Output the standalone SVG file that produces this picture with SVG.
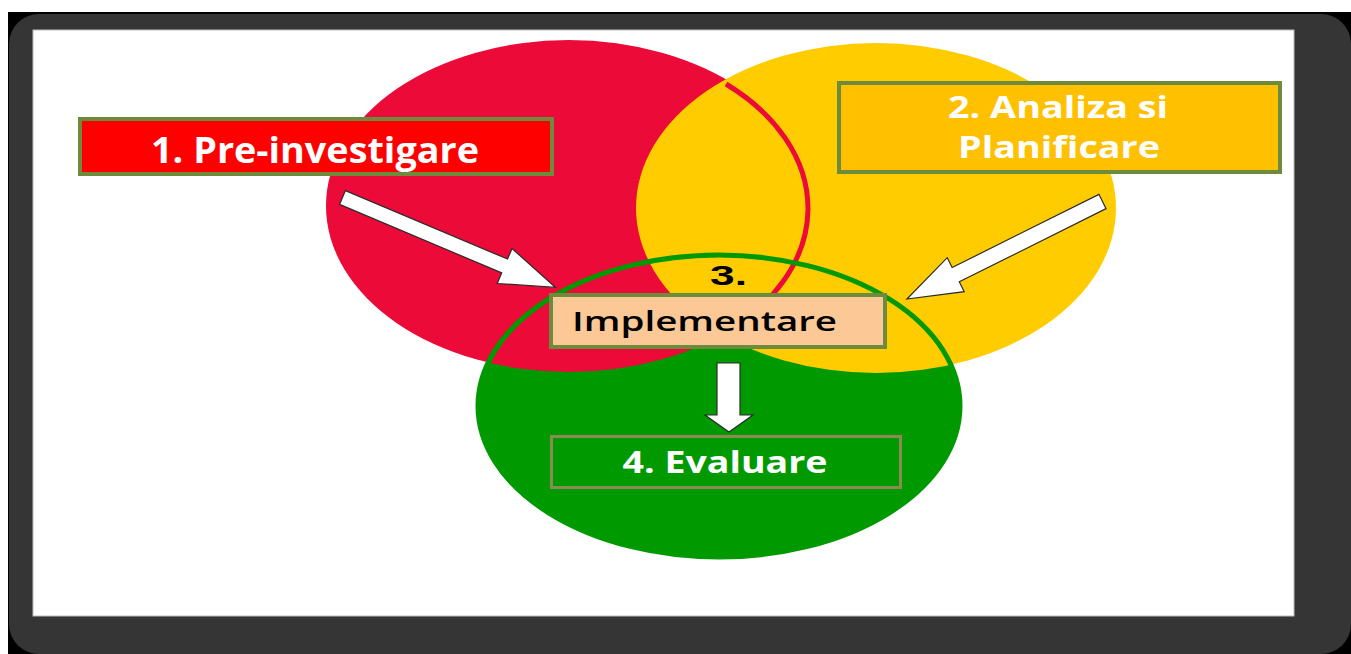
<svg xmlns="http://www.w3.org/2000/svg" width="1351" height="654" viewBox="0 0 1351 654">
<style>
.lbl{font-family:"Open Sans","Liberation Sans",sans-serif;font-weight:bold;fill:#ffffff;text-anchor:middle}
.box{stroke:#6E8B3D;stroke-width:4}
.arrow{fill:#ffffff;stroke:#2a2a2a;stroke-width:1.2;stroke-linejoin:miter}
</style>
<rect x="0" y="0" width="1351" height="654" fill="#ffffff"/>
<rect x="8" y="12" width="1343" height="642" fill="#000000"/>
<rect x="9" y="14" width="1342" height="640" rx="30" ry="30" fill="#353535"/>
<rect x="33" y="30" width="1261" height="586" fill="#ffffff" stroke="#bdbdbd" stroke-width="1"/>

<g id="circles">
<ellipse id="green-circle-fill" cx="719" cy="406" rx="241" ry="151" fill="#009900"/>
<ellipse id="red-circle" cx="569" cy="206" rx="243" ry="166" fill="#EC0B38"/>
<ellipse id="yellow-circle" cx="876" cy="208" rx="240" ry="165" fill="#FFCC00"/>
<path id="red-arc" d="M 726 84 A 243 166 0 0 1 722 335" fill="none" stroke="#EC0B38" stroke-width="5"/>
<ellipse id="green-circle-outline" cx="719" cy="406" rx="241" ry="151" fill="none" stroke="#009900" stroke-width="5"/>
</g>

<g id="connectors">
<polygon class="arrow" transform="translate(342.5,197.5) rotate(22.9)" points="0,-7.5 176,-7.5 176,-19 231,0 176,19 176,7.5 0,7.5"/>
<polygon class="arrow" transform="translate(1102.5,201.5) rotate(153.5)" points="0,-8 164,-8 164,-19 218.5,0 164,19 164,8 0,8"/>
<polygon class="arrow" points="717,363 740,363 740,415 753,415 729,432 705,415 717,415"/>
</g>

<g id="node-1">
<rect class="box" x="80" y="119" width="472" height="55" fill="#FF0000"/>
<text class="lbl" x="315" y="163" font-size="36" textLength="328" lengthAdjust="spacingAndGlyphs">1. Pre-investigare</text>
</g>

<g id="node-2">
<rect class="box" x="839" y="83" width="441" height="89" fill="#FFC000"/>
<text class="lbl" x="1058" y="118" font-size="30" textLength="220" lengthAdjust="spacingAndGlyphs">2. Analiza si</text>
<text class="lbl" x="1059" y="158" font-size="30" textLength="202" lengthAdjust="spacingAndGlyphs">Planificare</text>
</g>

<g id="node-3">
<text x="728.5" y="285" font-family="'Liberation Sans',Arial,sans-serif" font-weight="bold" font-size="28" fill="#000000" text-anchor="middle" textLength="37" lengthAdjust="spacingAndGlyphs">3.</text>
<rect class="box" x="551" y="295" width="334" height="52" fill="#FBC896"/>
<text x="572" y="331" font-family="'Open Sans','Liberation Sans',sans-serif" font-weight="600" font-size="27" fill="#000000" textLength="265" lengthAdjust="spacingAndGlyphs">Implementare</text>
</g>

<g id="node-4">
<rect x="551.5" y="436.5" width="349" height="51" fill="none" stroke="#8A8A52" stroke-width="3"/>
<text class="lbl" x="725" y="473" font-size="30" textLength="205" lengthAdjust="spacingAndGlyphs">4. Evaluare</text>
</g>
</svg>
